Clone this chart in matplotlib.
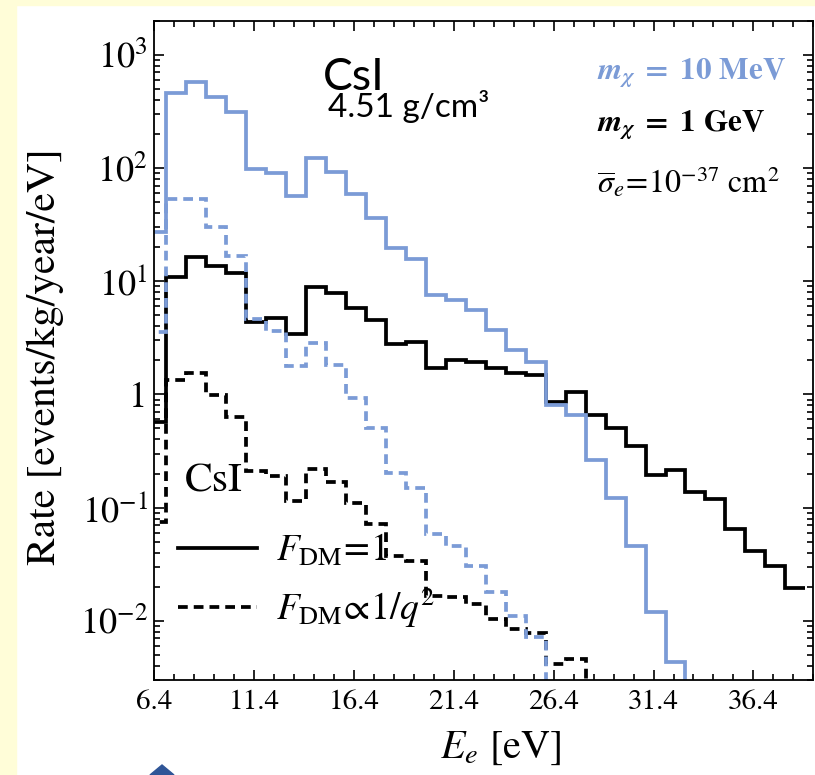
import numpy as np
import matplotlib.pyplot as plt
from matplotlib.lines import Line2D
from matplotlib.patches import Rectangle, Polygon
from matplotlib.ticker import FixedLocator, LogLocator, NullFormatter

plt.rcParams['mathtext.fontset'] = 'stix'
plt.rcParams['font.family'] = 'STIXGeneral'

# bin edges (1 eV bins) and rates
edges_10mev = np.arange(6, 34)
rate_10mev = [27, 459, 570, 421, 313, 98.6, 91, 56.7, 123, 92.7, 58.7, 36.5, 19.5, 15.7,
              7.48, 6.77, 5.52, 3.68, 2.46, 1.94, 0.807, 0.659, 0.265, 0.122, 0.0458,
              0.0119, 0.00432]
edges_1gev = np.arange(6, 40)
rate_1gev = [0.575, 10.8, 16.3, 13.7, 11.8, 4.36, 4.77, 3.45, 8.85, 7.84, 5.83, 4.5, 2.78,
             2.88, 1.72, 2.01, 1.94, 1.70, 1.53, 1.48, 0.863, 1.06, 0.659, 0.503, 0.347,
             0.195, 0.216, 0.136, 0.118, 0.0641, 0.0413, 0.0305, 0.0193]
edges_10mev_q2 = np.arange(6, 27)
rate_10mev_q2 = [3.56, 53, 53, 29.9, 16.8, 4.6, 3.6, 1.77, 2.83, 1.8, 0.925, 0.503, 0.202,
                 0.149, 0.058, 0.0458, 0.0305, 0.0178, 0.0111, 0.00716]
edges_1gev_q2 = np.arange(6, 29)
rate_1gev_q2 = [0.074, 1.34, 1.55, 0.99, 0.637, 0.209, 0.189, 0.114, 0.219, 0.167, 0.110,
                0.071, 0.037, 0.0338, 0.0166, 0.0162, 0.0141, 0.0104, 0.00848, 0.00776,
                0.00417, 0.00461]

xticks = [6.4, 11.4, 16.4, 21.4, 26.4, 31.4, 36.4]
yticks = [1e-2, 1e-1, 1, 1e1, 1e2, 1e3]
ytick_labels = [r'$10^{-2}$', r'$10^{-1}$', '1', r'$10^{1}$', r'$10^{2}$', r'$10^{3}$']

blue = '#7b9bd6'
dash = (0, (2.6, 1.6))

fig = plt.figure(figsize=(8.15, 7.75), dpi=100)
# slide background strips + arrow tip
fig.add_artist(Rectangle((0, 0), 0.02, 1, transform=fig.transFigure, color='#fffdd8', zorder=0))
fig.add_artist(Rectangle((0, 0.993), 1, 0.007, transform=fig.transFigure, color='#fffdd8', zorder=0))
fig.add_artist(Polygon([[0.184, 0], [0.1988, 0.0129], [0.2135, 0]], transform=fig.transFigure,
                       color='#2f5597', zorder=1))

ax = fig.add_axes([0.1894, 0.1226, 0.8085, 0.8507])

ax.stairs(rate_1gev, edges_1gev, baseline=None, color='black', lw=2.7)
ax.stairs(rate_1gev_q2, edges_1gev_q2, baseline=1e-5, color='black', lw=2.7, ls=dash)
ax.stairs(rate_10mev, edges_10mev, baseline=1e-5, color=blue, lw=2.7)
ax.stairs(rate_10mev_q2, edges_10mev_q2, baseline=1e-5, color=blue, lw=2.7, ls=dash)

ax.set_yscale('log')
ax.set_xlim(6.4, 39.4)
ax.set_ylim(0.003, 2000)

ax.xaxis.set_major_locator(FixedLocator(xticks))
ax.set_xticklabels([f'{t:.1f}' for t in xticks], fontsize=21)
ax.xaxis.set_minor_locator(FixedLocator(np.arange(6.4, 39.5, 1.0)))
ax.yaxis.set_major_locator(FixedLocator(yticks))
ax.set_yticklabels(ytick_labels, fontsize=26)
ax.yaxis.set_minor_locator(LogLocator(base=10, subs=np.arange(2, 10)))
ax.yaxis.set_minor_formatter(NullFormatter())
ax.tick_params(which='both', direction='in', top=True, right=True, width=1.2)
ax.tick_params(which='major', length=7)
ax.tick_params(which='minor', length=4)
ax.tick_params(axis='x', pad=7)
ax.tick_params(axis='y', pad=5)
for s in ax.spines.values():
    s.set_linewidth(1.3)

ax.set_ylabel('Rate [events/kg/year/eV]', fontsize=30, va='center')
ax.yaxis.set_label_coords(-0.166, 0.491)
ax.set_xlabel(r'$E_e$ [eV]', fontsize=29, va='center')
ax.xaxis.set_label_coords(0.525, -0.103)

ax.text(0.302, 0.895, 'CsI', transform=ax.transAxes, family='Lato', fontsize=32,
        ha='center', va='baseline')
ax.text(0.264, 0.854, '4.51 g/cm³', transform=ax.transAxes, family='Lato', fontsize=24,
        ha='left', va='baseline')

ax.text(0.672, 0.921, r'$\mathbfit{m}_{\mathbfit{\chi}}\ \mathbf{=\ 10\ MeV}$', transform=ax.transAxes,
        color=blue, fontsize=22.5, va='center')
ax.text(0.672, 0.842, r'$\mathbfit{m}_{\mathbfit{\chi}}\ \mathbf{=\ 1\ GeV}$', transform=ax.transAxes,
        color='black', fontsize=22.5, va='center')
ax.text(0.672, 0.754, r'$\overline{\sigma}_e\!=\!10^{-37}\ \mathrm{cm}^2$', transform=ax.transAxes,
        color='black', fontsize=23, va='center')

# legend: material name + form-factor line styles
ax.text(0.046, 0.300, 'CsI', transform=ax.transAxes, fontsize=30, ha='left', va='center')
handles = [Line2D([], [], color='black', lw=2.7),
           Line2D([], [], color='black', lw=2.7, ls=dash)]
leg = ax.legend(handles, [r'$F_{\mathrm{DM}}\!=\!1$', r'$F_{\mathrm{DM}}\!\propto\!1/q^2$'],
                fontsize=27, loc='upper left',
                bbox_to_anchor=(0.036, 0.223), frameon=False, borderpad=0, borderaxespad=0,
                handlelength=2.1, handletextpad=0.5, labelspacing=0.45)

fig.savefig('out.png', dpi=100)
